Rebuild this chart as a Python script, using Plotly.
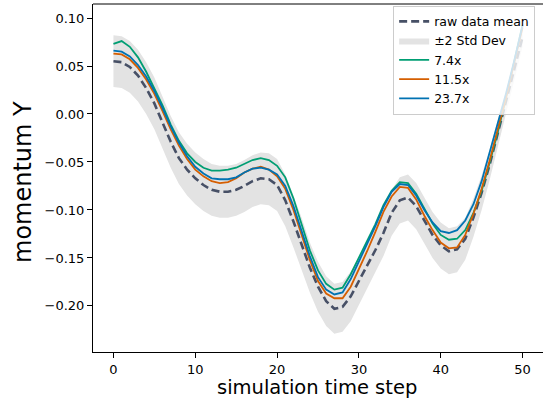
import plotly.graph_objects as go

steps = list(range(51))

raw_mean = [0.055, 0.054, 0.049, 0.040, 0.027, 0.011, -0.009, -0.029, -0.046, -0.058,
            -0.067, -0.074, -0.079, -0.081, -0.081, -0.079, -0.075, -0.070, -0.067, -0.068,
            -0.074, -0.090, -0.112, -0.135, -0.160, -0.180, -0.195, -0.203, -0.201, -0.190,
            -0.174, -0.158, -0.142, -0.124, -0.103, -0.090, -0.087, -0.096, -0.111, -0.126,
            -0.137, -0.143, -0.141, -0.130, -0.108, -0.082, -0.052, -0.020, 0.013, 0.047,
            0.080]

two_std = [0.027, 0.027, 0.027, 0.027, 0.027, 0.027, 0.027, 0.027, 0.027, 0.027,
           0.027, 0.027, 0.027, 0.027, 0.027, 0.027, 0.027, 0.027, 0.027, 0.027,
           0.027, 0.027, 0.027, 0.027, 0.026, 0.026, 0.026, 0.026, 0.026, 0.026,
           0.025, 0.024, 0.024, 0.024, 0.024, 0.024, 0.024, 0.024, 0.024, 0.024,
           0.024, 0.024, 0.024, 0.022, 0.020, 0.018, 0.016, 0.014, 0.012, 0.011,
           0.010]

run_7_4x = [0.073, 0.076, 0.070, 0.059, 0.044, 0.027, 0.009, -0.011, -0.028, -0.041,
            -0.050, -0.056, -0.059, -0.059, -0.058, -0.056, -0.052, -0.048, -0.046, -0.048,
            -0.054, -0.066, -0.088, -0.115, -0.142, -0.163, -0.177, -0.183, -0.181, -0.167,
            -0.150, -0.133, -0.115, -0.095, -0.080, -0.071, -0.072, -0.083, -0.099, -0.114,
            -0.126, -0.131, -0.130, -0.121, -0.103, -0.080, -0.050, -0.018, 0.018, 0.055,
            0.093]

run_11_5x = [0.063, 0.062, 0.057, 0.048, 0.036, 0.021, 0.003, -0.016, -0.033, -0.047,
             -0.058, -0.065, -0.070, -0.072, -0.071, -0.067, -0.061, -0.057, -0.055, -0.058,
             -0.065, -0.078, -0.100, -0.126, -0.152, -0.174, -0.187, -0.192, -0.192, -0.180,
             -0.162, -0.143, -0.123, -0.102, -0.086, -0.076, -0.077, -0.089, -0.106, -0.121,
             -0.134, -0.140, -0.139, -0.126, -0.104, -0.078, -0.048, -0.016, 0.018, 0.054,
             0.090]

run_23_7x = [0.066, 0.065, 0.060, 0.051, 0.039, 0.024, 0.006, -0.013, -0.030, -0.044,
             -0.055, -0.062, -0.067, -0.068, -0.068, -0.066, -0.061, -0.057, -0.056, -0.058,
             -0.063, -0.075, -0.096, -0.122, -0.148, -0.170, -0.183, -0.188, -0.186, -0.172,
             -0.154, -0.136, -0.117, -0.097, -0.081, -0.073, -0.074, -0.085, -0.100, -0.113,
             -0.122, -0.124, -0.121, -0.111, -0.094, -0.070, -0.040, -0.010, 0.022, 0.056,
             0.092]

y_ticks = [-0.20, -0.15, -0.10, -0.05, 0.00, 0.05, 0.10]
x_ticks = [0, 10, 20, 30, 40, 50]

upper = [m + s for m, s in zip(raw_mean, two_std)]
lower = [m - s for m, s in zip(raw_mean, two_std)]

FONT = "DejaVu Sans"

fig = go.Figure()
fig.add_trace(go.Scatter(x=steps, y=upper, mode="lines", line=dict(width=0, color="#E3E3E3"),
                         showlegend=False, hoverinfo="skip"))
fig.add_trace(go.Scatter(x=steps, y=lower, mode="lines", line=dict(width=0, color="#E3E3E3"),
                         fill="tonexty", fillcolor="#E3E3E3", name="±2 Std Dev", legendrank=2))
fig.add_trace(go.Scatter(x=steps, y=raw_mean, mode="lines", name="raw data mean",
                         line=dict(color="#475066", width=2.6, dash="8px,4px"), legendrank=1))
fig.add_trace(go.Scatter(x=steps, y=run_7_4x, mode="lines", name="7.4x",
                         line=dict(color="#009E73", width=1.8), legendrank=3))
fig.add_trace(go.Scatter(x=steps, y=run_11_5x, mode="lines", name="11.5x",
                         line=dict(color="#D55E00", width=1.8), legendrank=4))
fig.add_trace(go.Scatter(x=steps, y=run_23_7x, mode="lines", name="23.7x",
                         line=dict(color="#0072B2", width=1.8), legendrank=5))

fig.update_layout(
    width=543, height=398,
    margin=dict(l=93, r=0, t=4, b=46, autoexpand=False),
    paper_bgcolor="white", plot_bgcolor="white",
    font=dict(family=FONT, size=13, color="black"),
    legend=dict(x=0.667, y=0.995, xanchor="left", yanchor="top",
                bgcolor="rgba(255,255,255,0.8)", bordercolor="#CCCCCC", borderwidth=1,
                font=dict(family=FONT, size=12.5), traceorder="normal", itemwidth=30,
                tracegroupgap=0),
    xaxis=dict(range=[-2.5, 52.5], tickvals=x_ticks, showgrid=False, zeroline=False,
               showline=True, linecolor="black", linewidth=1, mirror=False,
               ticks="outside", ticklen=5, tickcolor="black", tickwidth=1,
               tickfont=dict(size=13), automargin=False),
    yaxis=dict(range=[-0.248, 0.1146], tickvals=y_ticks, tickformat=".2f", showgrid=False,
               zeroline=False, showline=True, linecolor="black", linewidth=1,
               ticks="outside", ticklen=5, tickcolor="black", tickwidth=1,
               tickfont=dict(size=13), automargin=False),
    shapes=[dict(type="line", xref="paper", yref="paper", x0=0, x1=1, y0=1, y1=1,
                 line=dict(color="black", width=1))],
    annotations=[
        dict(text="simulation time step", xref="paper", yref="paper", x=0.498, y=-0.1034,
             xanchor="center", yanchor="middle", showarrow=False, font=dict(size=19.5)),
        dict(text="momentum Y", xref="paper", yref="paper", x=-0.1556, y=0.4885,
             xanchor="center", yanchor="middle", textangle=-90, showarrow=False,
             font=dict(size=24)),
    ],
)

fig.write_html("out.html", config={"displayModeBar": False},
               post_script="document.body.style.margin='0px';document.body.style.overflow='hidden';")
